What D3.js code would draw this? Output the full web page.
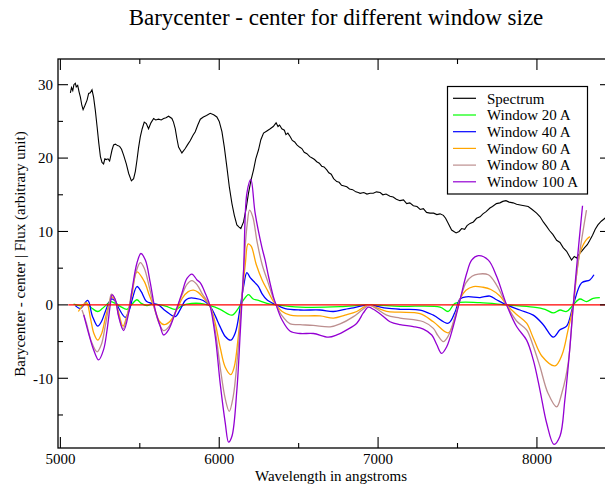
<!DOCTYPE html>
<html>
<head>
<meta charset="utf-8">
<script src="https://cdn.jsdelivr.net/npm/d3@7"></script>
<style>
  html, body { margin: 0; padding: 0; background: #fff; }
  svg { display: block; font-family: "Liberation Serif", "Times New Roman", serif; }
</style>
</head>
<body>
<svg id="chart" width="605" height="489"></svg>
<script>
// Spectrum flux (wavelength, flux)
const spectrumWave = [5063,5070,5078,5085,5094,5100,5109,5118,5126,5135,5143,5155,5168,5178,5188,5199,5209,5220,5231,5242,5252,5262,5272,5280,5289,5300,5310,5325,5335,5346,5360,5373,5385,5398,5415,5430,5447,5461,5472,5482,5492,5503,5515,5528,5541,5555,5570,5587,5600,5618,5635,5650,5665,5681,5702,5712,5723,5734,5744,5765,5786,5800,5818,5835,5849,5865,5881,5900,5920,5943,5965,5985,6000,6017,6032,6048,6064,6080,6095,6111,6125,6136,6153,6170,6184,6200,6216,6230,6247,6262,6279,6300,6321,6340,6358,6370,6380,6394,6410,6420,6432,6447,6460,6475,6489,6505,6520,6535,6552,6570,6585,6600,6614,6630,6645,6660,6677,6690,6705,6720,6740,6755,6770,6787,6803,6820,6840,6860,6875,6887,6910,6930,6950,6970,6990,7013,7030,7050,7075,7095,7115,7138,7160,7180,7200,7222,7245,7265,7285,7305,7327,7350,7370,7390,7411,7425,7442,7463,7491,7510,7526,7545,7560,7579,7600,7620,7642,7660,7680,7704,7720,7745,7767,7785,7805,7825,7850,7872,7895,7920,7945,7970,7998,8020,8040,8061,8080,8100,8124,8145,8165,8187,8200,8218,8235,8250,8265,8281,8300,8317,8333,8350,8367,8384,8405,8428,8445];
const spectrumFlux = [28.9,29.6,29.2,30.0,30.2,29.7,29.9,29.0,28.3,27.2,26.6,27.2,27.9,28.8,28.9,29.3,28.3,26.5,24.3,22.0,20.2,19.4,19.2,19.9,19.8,19.9,19.6,21.1,21.8,21.9,21.7,21.6,21.2,20.4,19.2,17.9,16.9,17.2,18.2,19.7,21.4,22.9,24.0,24.9,24.7,24.0,24.8,25.4,25.2,25.3,25.2,25.4,25.5,25.7,25.4,24.9,24.0,22.6,21.5,20.7,21.3,21.8,22.4,23.1,23.6,24.5,25.3,25.6,25.8,26.1,25.9,25.6,25.0,23.6,21.5,18.8,16.0,13.8,12.2,10.9,10.6,10.4,11.3,13.2,15.2,17.0,18.4,19.9,21.1,22.5,23.4,23.7,24.0,24.3,24.8,24.3,24.5,24.0,23.8,23.2,23.4,22.9,22.4,22.2,21.8,21.5,21.3,20.8,20.6,20.2,20.0,19.8,19.5,19.3,18.9,18.8,18.4,18.0,17.8,17.2,16.8,16.7,16.3,16.2,16.1,15.8,15.7,15.4,15.3,15.2,15.3,15.1,15.2,15.2,15.4,15.3,15.0,15.1,14.8,14.7,14.4,14.2,14.3,13.8,13.9,13.5,13.4,13.0,13.1,12.6,12.5,12.5,12.3,12.4,12.2,11.8,11.1,10.2,9.8,10.0,10.4,10.3,10.8,11.1,11.3,11.8,12.0,12.4,12.7,13.2,13.4,13.8,13.9,14.1,14.2,14.0,13.9,13.7,13.6,13.5,13.4,13.0,12.5,12.0,11.3,10.7,10.1,9.6,8.8,8.5,7.8,7.3,6.8,6.1,6.6,6.4,6.9,7.3,7.8,8.2,8.8,9.5,10.3,10.9,11.4,11.8,12.3];

// Barycenter - center, window 20 A
const w20Wave = [5083,5126,5168,5201,5235,5264,5289,5314,5346,5377,5420,5447,5482,5509,5545,5579,5629,5679,5723,5761,5797,5881,5943,6006,6080,6119,6151,6184,6214,6247,6300,6358,6509,6761,6937,7138,7390,7442,7484,7642,7809,7977,8051,8103,8145,8187,8229,8270,8312,8354,8396];
const w20Val = [0.1,-0.1,0.1,-0.5,-0.9,-0.5,0,0.45,0.2,-0.2,-0.6,0,0.7,0.2,-0.1,0.1,0,-0.3,-0.6,-0.2,0.1,0.2,-0.1,-0.6,-1.4,-0.5,0.6,1.4,0.8,0.6,0.2,0,-0.3,-0.25,0,-0.2,-0.3,-0.9,0.2,0.3,0,-0.3,-0.6,-1.1,-0.7,-0.9,0,0.8,0.45,0.9,1.0];

// Barycenter - center, window 40 A
const w40Wave = [5094,5126,5172,5201,5235,5258,5283,5321,5346,5371,5409,5434,5453,5482,5509,5541,5577,5617,5661,5723,5755,5786,5807,5849,5899,5943,5975,6006,6038,6073,6101,6132,6153,6174,6195,6226,6247,6270,6300,6358,6415,6509,6635,6719,6792,6845,6939,6994,7054,7138,7264,7348,7442,7484,7516,7558,7642,7704,7746,7809,7893,7977,8040,8103,8145,8187,8229,8281,8333,8359];
const w40Val = [-0.1,-0.5,0.6,-1.5,-2.9,-2.3,-0.9,0.8,0.5,-0.6,-1.7,-0.7,0.8,2.5,1.8,0.5,0.2,0,-0.8,-1.6,-0.6,0.6,0.9,0.9,0.6,-0.2,-1.5,-3.0,-4.3,-4.8,-3.8,-0.3,2.5,4.4,3.7,3.0,2.5,1.5,0.7,0,-0.5,-0.7,-0.7,-0.9,-0.6,-0.4,0,-0.2,-0.45,-0.6,-0.7,-1.4,-2.5,-1.0,0.8,1.1,1.0,1.2,0.7,0,-0.7,-1.4,-2.7,-4.4,-3.4,-2.9,0,3.0,3.4,4.1];

// Barycenter - center, window 60 A
const w60Wave = [5113,5164,5189,5211,5235,5258,5283,5308,5321,5343,5365,5394,5421,5450,5482,5528,5560,5591,5623,5654,5692,5730,5767,5805,5838,5868,5899,5943,5975,6006,6038,6073,6094,6119,6141,6164,6182,6201,6233,6270,6308,6340,6358,6396,6447,6509,6635,6719,6792,6866,6939,6981,7054,7138,7264,7348,7442,7484,7516,7553,7600,7661,7710,7767,7809,7872,7935,7977,8032,8114,8158,8195,8229,8249,8270,8308,8333];
const w60Val = [-0.9,0.3,-1.8,-3.9,-4.8,-4.0,-1.8,0.3,1.1,0.7,-0.9,-2.9,-1.3,1.3,4.5,3.2,1.3,-0.4,-2.2,-2.7,-2.2,-0.8,0.9,1.8,2.0,1.7,1.0,-0.2,-2.5,-5.8,-8.5,-9.5,-8.5,-4.5,0.5,5.5,8.3,8.0,5.5,3.4,1.8,0.5,0,-0.9,-1.4,-1.5,-1.5,-1.8,-1.4,-0.9,0,-0.3,-0.9,-1.0,-1.2,-2.3,-3.8,-1.8,0.8,2.0,2.5,2.4,2.1,1.2,0,-1.3,-2.5,-4.5,-7.0,-8.3,-6.8,-3.5,0,4.0,7.0,8.8,9.3];

// Barycenter - center, window 80 A
const w80Wave = [5136,5164,5195,5231,5258,5283,5308,5321,5343,5365,5394,5421,5450,5478,5503,5528,5560,5591,5623,5650,5686,5723,5765,5797,5828,5862,5893,5943,5975,6006,6038,6063,6088,6113,6135,6157,6176,6191,6211,6239,6270,6308,6340,6358,6396,6447,6509,6591,6698,6761,6845,6899,6943,6981,7054,7138,7285,7348,7377,7411,7440,7473,7516,7553,7591,7631,7694,7746,7809,7872,7935,7975,8019,8069,8124,8157,8197,8229,8258,8312];
const w80Val = [-0.7,-2.5,-5.0,-6.4,-5.4,-2.8,0.2,1.45,0.8,-1.3,-3.3,-1.5,1.8,4.6,5.75,5.0,2.4,-0.4,-2.6,-3.5,-2.9,-1.0,1.3,2.8,3.3,2.7,1.5,-0.2,-3.5,-8.5,-12.8,-14.5,-12.5,-7.5,-1.5,6.0,11.0,12.9,12.0,8.5,5.5,3.0,0.9,0,-1.5,-2.6,-2.7,-2.8,-3.0,-2.6,-1.6,-0.7,-0.05,-0.4,-1.4,-1.8,-2.3,-3.2,-4.2,-5.0,-4.3,-2.4,0.7,3.0,3.9,4.2,4.1,2.7,0,-2.2,-3.4,-5.5,-8.4,-12.0,-13.9,-12.0,-7.9,0,5.5,12.9];

// Barycenter - center, window 100 A
const w100Wave = [5147,5178,5209,5241,5272,5294,5314,5325,5346,5367,5398,5430,5451,5482,5507,5535,5566,5597,5629,5650,5681,5723,5765,5797,5828,5860,5881,5912,5943,5975,6006,6038,6059,6080,6111,6132,6153,6174,6199,6226,6268,6289,6310,6341,6358,6394,6447,6509,6593,6687,6740,6803,6866,6907,6939,6970,7023,7075,7138,7222,7285,7338,7369,7400,7432,7473,7516,7558,7589,7631,7694,7746,7809,7872,7935,7977,8019,8061,8107,8145,8176,8208,8229,8250,8287];
const w100Val = [-1.36,-3.9,-6.1,-7.5,-6.1,-3.4,0,1.36,0.7,-1.6,-3.5,-1.1,2.0,5.7,7.0,6.1,3.0,-0.7,-2.95,-4.1,-3.4,-1.1,1.6,3.6,4.2,3.4,3.0,1.6,-0.2,-4.3,-10.7,-16.1,-18.7,-17.9,-11.6,-3.9,4.5,15.2,17.1,12.5,7.9,6.1,3.9,1.1,0,-2.0,-3.6,-3.9,-3.9,-4.4,-4.1,-3.4,-2.5,-1.1,-0.3,-0.6,-1.4,-2.3,-2.7,-2.95,-3.3,-4.1,-5.4,-6.6,-5.7,-2.95,0.7,4.3,6.1,6.7,6.1,3.9,0,-2.95,-4.8,-7.5,-11.6,-16.1,-19.0,-17.9,-12.9,-5.7,0,5.2,13.5];

// Zero reference line extent
const zeroWave = [5050, 8460];

// Axis ticks
const xMajorTicks = [5000, 6000, 7000, 8000];
const xMinorTicks = [5500, 6500, 7500];
const yMajorTicks = [-10, 0, 10, 20, 30];
const yMinorTicks = [-15, -5, 5, 15, 25];

const legendLabels = ["Spectrum", "Window 20 A", "Window 40 A", "Window 60 A", "Window 80 A", "Window 100 A"];
const seriesColors = ["#000000", "#00ff00", "#0000ff", "#ffa500", "#bc8f8f", "#9400d3"];

const svg = d3.select("#chart");
const plot = { left: 58, top: 59, right: 610, bottom: 448 };

const x = d3.scaleLinear().domain([4985, 8460]).range([plot.left, plot.right]);
const y = d3.scaleLinear().domain([-19.5, 33.5]).range([plot.bottom, plot.top]);

svg.append("clipPath").attr("id", "plotclip")
  .append("rect").attr("x", plot.left).attr("y", plot.top)
  .attr("width", plot.right - plot.left).attr("height", plot.bottom - plot.top);

const zip = (a, b) => a.map((v, i) => [v, b[i]]);

const smooth = d3.line().x(d => x(d[0])).y(d => y(d[1])).curve(d3.curveCatmullRom.alpha(0.5));
const straight = d3.line().x(d => x(d[0])).y(d => y(d[1]));

const g = svg.append("g").attr("clip-path", "url(#plotclip)");

// Spectrum
g.append("path").attr("d", straight(zip(spectrumWave, spectrumFlux)))
  .attr("fill", "none").attr("stroke", seriesColors[0]).attr("stroke-width", 1.1);

// Window series
const windows = [[w20Wave, w20Val], [w40Wave, w40Val], [w60Wave, w60Val], [w80Wave, w80Val], [w100Wave, w100Val]];
windows.forEach((s, i) => {
  g.append("path").attr("d", smooth(zip(s[0], s[1])))
    .attr("fill", "none").attr("stroke", seriesColors[i + 1]).attr("stroke-width", 1.3);
});

// Zero line
g.append("path").attr("d", straight(zeroWave.map(w => [w, 0])))
  .attr("fill", "none").attr("stroke", "#ff0000").attr("stroke-width", 1.2);

// Frame
svg.append("rect").attr("x", plot.left).attr("y", plot.top)
  .attr("width", plot.right - plot.left).attr("height", plot.bottom - plot.top)
  .attr("fill", "none").attr("stroke", "#000").attr("stroke-width", 1.3);

// Inward ticks on all four sides
const tickG = svg.append("g").attr("stroke", "#000").attr("stroke-width", 1.1);
const addXTicks = (vals, len) => vals.forEach(v => {
  tickG.append("line").attr("x1", x(v)).attr("x2", x(v)).attr("y1", plot.bottom).attr("y2", plot.bottom - len);
  tickG.append("line").attr("x1", x(v)).attr("x2", x(v)).attr("y1", plot.top).attr("y2", plot.top + len);
});
const addYTicks = (vals, len) => vals.forEach(v => {
  tickG.append("line").attr("y1", y(v)).attr("y2", y(v)).attr("x1", plot.left).attr("x2", plot.left + len);
  tickG.append("line").attr("y1", y(v)).attr("y2", y(v)).attr("x1", plot.right).attr("x2", plot.right - len);
});
addXTicks(xMajorTicks, 11);
addXTicks(xMinorTicks, 5);
addYTicks(yMajorTicks, 10);
addYTicks(yMinorTicks, 5);

// Tick labels
svg.append("g").selectAll("text").data(xMajorTicks).join("text")
  .attr("x", d => x(d)).attr("y", 464).attr("text-anchor", "middle")
  .attr("font-size", 15).text(d => d);
svg.append("g").selectAll("text").data(yMajorTicks).join("text")
  .attr("x", 53).attr("y", d => y(d)).attr("dy", "0.35em").attr("text-anchor", "end")
  .attr("font-size", 15).text(d => d);

// Titles
svg.append("text").attr("x", 336).attr("y", 25).attr("text-anchor", "middle")
  .attr("font-size", 23).text("Barycenter - center for different window size");
svg.append("text").attr("x", 331).attr("y", 481).attr("text-anchor", "middle")
  .attr("font-size", 15).text("Wavelength in angstroms");
svg.append("text").attr("transform", "translate(25,254) rotate(-90)").attr("text-anchor", "middle")
  .attr("font-size", 15).text("Barycenter - center | Flux (arbitrary unit)");

// Legend
const lg = svg.append("g");
lg.append("rect").attr("x", 447.5).attr("y", 86.5).attr("width", 140).attr("height", 107.5)
  .attr("fill", "#fff").attr("stroke", "#000").attr("stroke-width", 1.2);
legendLabels.forEach((lab, i) => {
  const yy = 98.3 + i * 16.7;
  lg.append("line").attr("x1", 453).attr("x2", 476).attr("y1", yy).attr("y2", yy)
    .attr("stroke", seriesColors[i]).attr("stroke-width", 1.2);
  lg.append("text").attr("x", 487).attr("y", yy).attr("dy", "0.35em")
    .attr("font-size", 15).text(lab);
});
</script>
</body>
</html>
